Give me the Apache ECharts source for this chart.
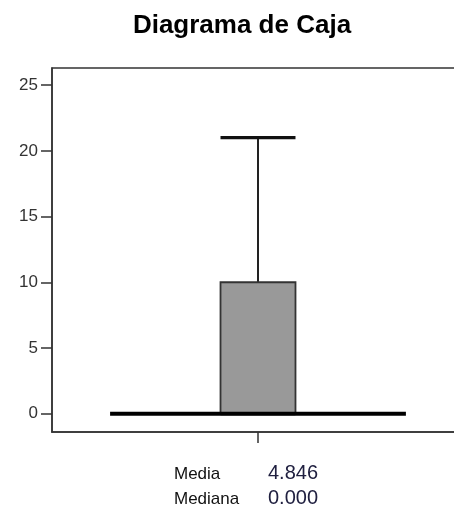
<!DOCTYPE html>
<html>
<head>
<meta charset="utf-8">
<script src="https://cdn.jsdelivr.net/npm/echarts@6/dist/echarts.min.js"></script>
<style>
html,body{margin:0;padding:0;background:#fff;}
#chart{width:454px;height:510px;}
</style>
</head>
<body>
<div id="chart"></div>
<script>
var titleText = 'Diagrama de Caja';
var categories = [''];
// [whiskerLow, Q1, median, Q3, whiskerHigh]
var boxValues = [[0, 0, 0, 10, 21]];
var yTicks = [0, 5, 10, 15, 20, 25];
var yMin = -1.39;
var yMax = 26.3;
var statLabels = ['Media', 'Mediana'];
var statValues = ['4.846', '0.000'];

var FONT = '"Liberation Sans", Arial, sans-serif';

var chart = echarts.init(document.getElementById('chart'), null, {renderer: 'canvas'});

var seriesData = boxValues.map(function (b, i) { return [i].concat(b); });

var option = {
  animation: false,
  backgroundColor: '#ffffff',
  grid: {
    left: 52, top: 68, right: -10, bottom: 78,
    outerBoundsMode: 'none',
    containLabel: false,
    show: true, borderColor: '#333', borderWidth: 1.5, backgroundColor: 'transparent'
  },
  xAxis: {
    type: 'category',
    data: categories,
    boundaryGap: true,
    axisLine: {show: true, onZero: false, lineStyle: {color: '#333', width: 1.5}},
    axisTick: {show: true, alignWithLabel: true, length: 11, lineStyle: {color: '#333', width: 1.5}},
    axisLabel: {show: false},
    splitLine: {show: false}
  },
  yAxis: {
    type: 'value',
    min: yMin,
    max: yMax,
    axisLine: {show: true, lineStyle: {color: '#333', width: 1.5}},
    axisTick: {show: true, length: 11, customValues: yTicks, lineStyle: {color: '#333', width: 1.5}},
    axisLabel: {show: true, customValues: yTicks, margin: 14, color: '#333', fontSize: 17, fontFamily: FONT},
    splitLine: {show: false}
  },
  series: [{
    type: 'custom',
    data: seriesData,
    encode: {x: 0, y: [1, 2, 3, 4, 5]},
    renderItem: function (params, api) {
      var xv = api.value(0);
      var band = api.size([1, 0])[0];
      var boxW = band * 0.182;
      var medW = band * 0.718;
      var pLow = api.coord([xv, api.value(1)]);
      var pQ1 = api.coord([xv, api.value(2)]);
      var pMed = api.coord([xv, api.value(3)]);
      var pQ3 = api.coord([xv, api.value(4)]);
      var pHigh = api.coord([xv, api.value(5)]);
      var cx = pMed[0];
      return {
        type: 'group',
        children: [
          {type: 'line', shape: {x1: cx, y1: pQ3[1], x2: cx, y2: pHigh[1]}, style: {stroke: '#222', lineWidth: 2}},
          {type: 'line', shape: {x1: cx, y1: pQ1[1], x2: cx, y2: pLow[1]}, style: {stroke: '#222', lineWidth: 2}},
          {type: 'line', shape: {x1: cx - boxW / 2, y1: pHigh[1], x2: cx + boxW / 2, y2: pHigh[1]}, style: {stroke: '#111', lineWidth: 3.2}},
          {type: 'line', shape: {x1: cx - boxW / 2, y1: pLow[1], x2: cx + boxW / 2, y2: pLow[1]}, style: {stroke: '#111', lineWidth: 3.2}},
          {type: 'rect', shape: {x: cx - boxW / 2, y: pQ3[1], width: boxW, height: pQ1[1] - pQ3[1]}, style: {fill: '#999999', stroke: '#333', lineWidth: 1.8}},
          {type: 'line', shape: {x1: cx - medW / 2, y1: pMed[1], x2: cx + medW / 2, y2: pMed[1]}, style: {stroke: '#000', lineWidth: 4}}
        ]
      };
    }
  }],
  graphic: [
    {type: 'text', x: 242, y: 26, style: {text: titleText, font: 'bold 26px ' + FONT, fill: '#000', align: 'center', verticalAlign: 'middle'}},
    {type: 'text', x: 174, y: 474, style: {text: statLabels[0], font: '17px ' + FONT, fill: '#111', align: 'left', verticalAlign: 'middle'}},
    {type: 'text', x: 174, y: 499, style: {text: statLabels[1], font: '17px ' + FONT, fill: '#111', align: 'left', verticalAlign: 'middle'}},
    {type: 'text', x: 268, y: 473, style: {text: statValues[0], font: '20px ' + FONT, fill: '#202040', align: 'left', verticalAlign: 'middle'}},
    {type: 'text', x: 268, y: 498, style: {text: statValues[1], font: '20px ' + FONT, fill: '#202040', align: 'left', verticalAlign: 'middle'}}
  ]
};
chart.setOption(option);
</script>
</body>
</html>
